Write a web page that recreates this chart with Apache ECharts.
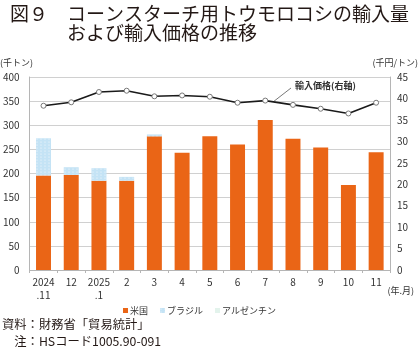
<!DOCTYPE html>
<html>
<head>
<meta charset="utf-8">
<script src="https://cdn.jsdelivr.net/npm/echarts@6/dist/echarts.min.js"></script>
<style>
  html, body { margin: 0; padding: 0; background: #fff; }
  #chart { width: 420px; height: 354px; }
</style>
</head>
<body>
<div id="chart"></div>
<script>
// 月（年.月）
const months = ['2024\n.11', '12', '2025\n.1', '2', '3', '4', '5', '6', '7', '8', '9', '10', '11']
// 輸入量（千トン）
const usa = [196, 197, 185, 185, 277, 243, 277, 260, 311, 272, 254, 176, 244]
const brazil = [77, 16, 26, 8, 4, 0, 0, 0, 0, 0, 0, 0, 0]
const argentina = [0, 0, 0, 0, 0, 0, 0, 0, 0, 0, 0, 0, 0]
// 輸入価格（千円/トン）
const price = [38.3, 39.1, 41.5, 41.8, 40.5, 40.7, 40.4, 39.0, 39.5, 38.5, 37.6, 36.5, 39.0]

const font = '"Noto Sans CJK JP", "Noto Sans", sans-serif'
const txt = '#231815'

const chart = echarts.init(document.getElementById('chart'), null, { renderer: 'canvas' })

const barBase = {
  type: 'bar',
  stack: 'vol',
  barWidth: '54%',
  yAxisIndex: 0
}

chart.setOption({
  animation: false,
  textStyle: { fontFamily: font },
  grid: { left: 29, right: 30, top: 77, bottom: 84, containLabel: false },
  legend: {
    data: ['米国', 'ブラジル', 'アルゼンチン'],
    left: 118, top: 301,
    icon: 'rect', itemWidth: 5, itemHeight: 5, itemGap: 12,
    textStyle: { fontSize: 9, color: '#333', fontFamily: font, padding: [0, 0, 0, -3] }
  },
  xAxis: {
    type: 'category',
    data: months,
    axisLine: { lineStyle: { color: '#b5b5b5' } },
    axisTick: { show: true, length: 3, lineStyle: { color: '#b5b5b5' } },
    axisLabel: { fontSize: 10, color: '#333', lineHeight: 13, margin: 6, interval: 0 }
  },
  yAxis: [
    {
      type: 'value', min: 0, max: 400, interval: 50,
      axisLine: { show: true, lineStyle: { color: '#b5b5b5' } },
      axisTick: { show: false },
      splitLine: { lineStyle: { color: '#d0d0d0' } },
      axisLabel: { fontSize: 10, color: '#333', margin: 10 }
    },
    {
      type: 'value', min: 0, max: 45, interval: 5,
      axisLine: { show: true, lineStyle: { color: '#b5b5b5' } },
      axisTick: { show: false },
      splitLine: { show: false },
      axisLabel: { fontSize: 10, color: '#333', margin: 7 }
    }
  ],
  series: [
    Object.assign({}, barBase, {
      name: '米国', data: usa,
      itemStyle: { color: '#ea6516' }
    }),
    Object.assign({}, barBase, {
      name: 'ブラジル', data: brazil,
      itemStyle: {
        color: '#c4e3f5',
        decal: { symbol: 'circle', symbolSize: 0.6, color: 'rgba(255,255,255,0.9)', dashArrayX: [[2, 2]], dashArrayY: [2, 1] }
      }
    }),
    Object.assign({}, barBase, {
      name: 'アルゼンチン', data: argentina,
      itemStyle: {
        color: '#e3f3ec',
        decal: { symbol: 'rect', symbolSize: 1, color: 'rgba(150,190,170,0.8)', dashArrayX: [1, 3], dashArrayY: [0, 0] }
      }
    }),
    {
      name: '輸入価格', type: 'line', yAxisIndex: 1, data: price,
      symbol: 'circle', symbolSize: 5, showSymbol: true,
      lineStyle: { color: '#1a1a1a', width: 1.6 },
      itemStyle: { color: '#fff', borderColor: '#777', borderWidth: 1 },
      z: 5
    }
  ],
  graphic: [
    { type: 'text', left: 10, top: 4, style: { text: '図９　コーンスターチ用トウモロコシの輸入量', font: '19px ' + font, fill: txt } },
    { type: 'text', left: 67, top: 23, style: { text: 'および輸入価格の推移', font: '19px ' + font, fill: txt } },
    { type: 'text', left: 0, top: 58, style: { text: '(千トン)', font: '9px ' + font, fill: '#333' } },
    { type: 'text', right: 2, top: 58, style: { text: '(千円/トン)', font: '9px ' + font, fill: '#333' } },
    { type: 'text', right: 6, top: 286, style: { text: '(年.月)', font: '9px ' + font, fill: '#333' } },
    { type: 'line', shape: { x1: 273, y1: 102, x2: 291, y2: 88 }, style: { stroke: '#555', lineWidth: 0.8 } },
    { type: 'text', left: 295, top: 81, style: { text: '輸入価格(右軸)', font: 'bold 9px ' + font, fill: '#333' } },
    { type: 'text', left: 2, top: 318, style: { text: '資料：財務省「貿易統計」', font: '12.3px ' + font, fill: txt } },
    { type: 'text', left: 2, top: 335, style: { text: '　注：HSコード1005.90-091', font: '12.3px ' + font, fill: txt } }
  ]
})
</script>
</body>
</html>
